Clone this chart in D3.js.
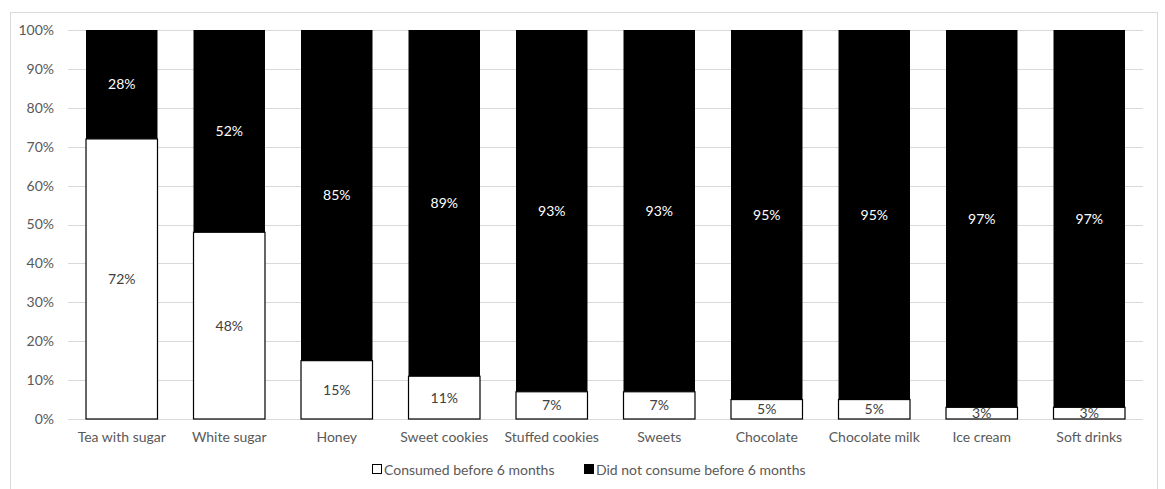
<!DOCTYPE html>
<html>
<meta charset="utf-8">
<script src="https://d3js.org/d3.v7.min.js"></script>
<style>
  body { margin: 0; background: #fff; }
  text { font-family: Lato, "Open Sans", sans-serif; }
</style>
<body>
<div id="chart"></div>
<script>
// data
var foods = ["Tea with sugar", "White sugar", "Honey", "Sweet cookies", "Stuffed cookies",
             "Sweets", "Chocolate", "Chocolate milk", "Ice cream", "Soft drinks"];
var consumed = [72, 48, 15, 11, 7, 7, 5, 5, 3, 3];
var notConsumed = [28, 52, 85, 89, 93, 93, 95, 95, 97, 97];
var yTicks = [0, 10, 20, 30, 40, 50, 60, 70, 80, 90, 100];
var seriesNames = ["Consumed before 6 months", "Did not consume before 6 months"];

var W = 1165, H = 489;
var margin = {top: 30, right: 22, bottom: 70, left: 68};
var width = W - margin.left - margin.right,
    height = H - margin.top - margin.bottom;
var fs = "14px";

var svg = d3.select("#chart").append("svg")
    .attr("width", W).attr("height", H);

// outer chart border
svg.append("rect")
    .attr("x", 10.5).attr("y", 12.5)
    .attr("width", 1147).attr("height", 490)
    .attr("fill", "none").attr("stroke", "#d9d9d9");

var g = svg.append("g")
    .attr("transform", "translate(" + margin.left + "," + margin.top + ")");

var x = d3.scaleBand().domain(foods).range([0, width]).paddingInner(0.335).paddingOuter(0.1675);
var y = d3.scaleLinear().domain([0, 100]).range([height, 0]);

// gridlines
g.selectAll(".grid").data(yTicks).enter().append("line")
    .attr("x1", 0).attr("x2", width)
    .attr("y1", function(d) { return Math.round(y(d)) + 0.5; })
    .attr("y2", function(d) { return Math.round(y(d)) + 0.5; })
    .attr("stroke", "#d9d9d9");

// y axis labels
var yAxis = g.append("g").call(d3.axisLeft(y).tickValues(yTicks).tickSize(0).tickPadding(14)
    .tickFormat(function(d) { return d + "%"; }));
yAxis.select(".domain").remove();
yAxis.selectAll("text").attr("fill", "#595959").style("font-size", fs).style("font-family", "Lato, 'Open Sans', sans-serif");

// x axis labels
var xAxis = g.append("g").attr("transform", "translate(0," + height + ")")
    .call(d3.axisBottom(x).tickSize(0).tickPadding(13));
xAxis.select(".domain").remove();
xAxis.selectAll("text").attr("fill", "#595959").style("font-size", fs).style("font-family", "Lato, 'Open Sans', sans-serif");

// stacked bars
var rows = foods.map(function(f, i) { return {food: f, a: consumed[i], b: notConsumed[i]}; });

g.selectAll(".top").data(rows).enter().append("rect")
    .attr("x", function(d) { return x(d.food); })
    .attr("y", function(d) { return y(100); })
    .attr("width", x.bandwidth())
    .attr("height", function(d) { return y(d.a) - y(100); })
    .attr("fill", "#000");

g.selectAll(".bottom").data(rows).enter().append("rect")
    .attr("x", function(d) { return x(d.food); })
    .attr("y", function(d) { return y(d.a); })
    .attr("width", x.bandwidth())
    .attr("height", function(d) { return y(0) - y(d.a); })
    .attr("fill", "#fff").attr("stroke", "#000").attr("stroke-width", 1.2);

// value labels
g.selectAll(".lblA").data(rows).enter().append("text")
    .attr("x", function(d) { return x(d.food) + x.bandwidth() / 2; })
    .attr("y", function(d) { return y(d.a / 2); })
    .attr("dy", "0.35em").attr("text-anchor", "middle")
    .attr("fill", "#404040").style("font-size", fs)
    .text(function(d) { return d.a + "%"; });

g.selectAll(".lblB").data(rows).enter().append("text")
    .attr("x", function(d) { return x(d.food) + x.bandwidth() / 2; })
    .attr("y", function(d) { return y(d.a + d.b / 2); })
    .attr("dy", "0.35em").attr("text-anchor", "middle")
    .attr("fill", "#fff").style("font-size", fs)
    .text(function(d) { return d.b + "%"; });

// legend
var legend = svg.append("g").attr("transform", "translate(372,470)");
var lx = [0, 212];
seriesNames.forEach(function(name, i) {
  legend.append("rect").attr("x", lx[i] + 0.5).attr("y", -5.5).attr("width", 9).attr("height", 9)
      .attr("fill", i === 0 ? "#fff" : "#000").attr("stroke", "#000");
  legend.append("text").attr("x", lx[i] + 12).attr("y", 0).attr("dy", "0.35em")
      .attr("fill", "#595959").style("font-size", fs).text(name);
});
</script>
</body>
</html>
